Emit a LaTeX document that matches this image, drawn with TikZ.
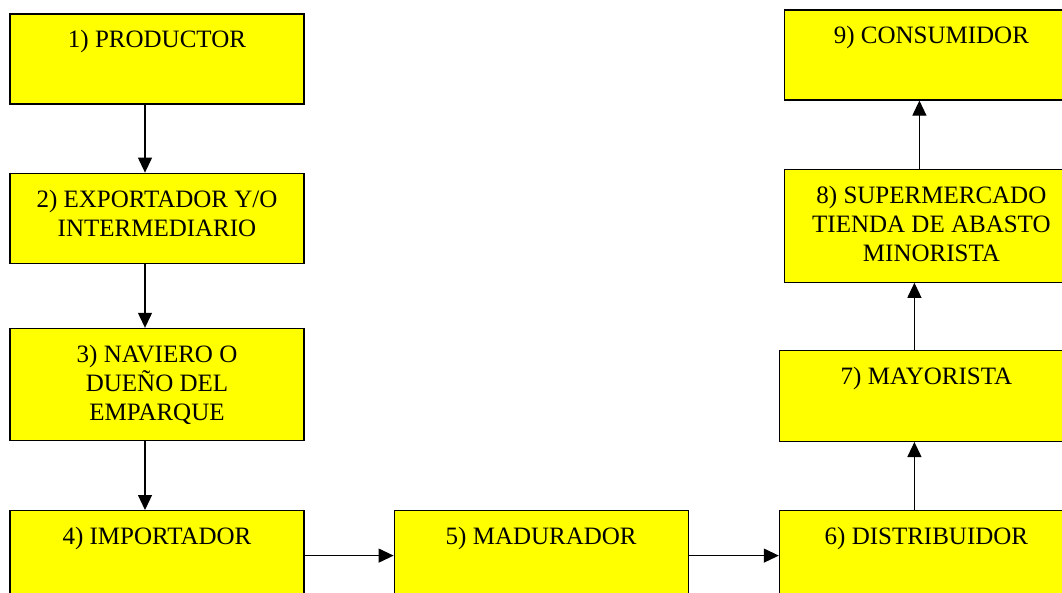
\documentclass[tikz,border=0pt]{standalone}
\usepackage{fontspec}
\setmainfont{Liberation Serif}
\usetikzlibrary{arrows.meta,positioning}
\definecolor{boxyellow}{RGB}{255,255,0}

\begin{document}
\begin{tikzpicture}[
  x=1pt, y=1pt,
  box/.style={draw, line width=1.2pt, fill=boxyellow, minimum width=294pt, minimum height=90pt, inner sep=0pt},
  txt/.style={anchor=north, align=center, inner sep=0pt, yshift=-17pt, font=\fontsize{25}{29}\selectfont},
  arr/.style={-{Triangle[length=15pt, width=14pt]}, line width=1.2pt}
]
\useasboundingbox (0,0) rectangle (1062,-592);
\fill[white] (0,0) rectangle (1062,-592);
% left column, top to bottom
\node[box, label={[txt]north:1) PRODUCTOR}] (n1) at (157,-59) {};
\node[box, below=68pt of n1, label={[txt]north:2) EXPORTADOR Y/O\\INTERMEDIARIO}] (n2) {};
\node[box, below=64pt of n2, minimum height=112pt, label={[txt]north:3) NAVIERO O\\DUEÑO DEL\\EMPARQUE}] (n3) {};
\node[box, below=69pt of n3, label={[txt]north:4) IMPORTADOR}] (n4) {};
% bottom row
\node[box, right=89pt of n4, label={[txt]north:5) MADURADOR}] (n5) {};
\node[box, right=90pt of n5, label={[txt]north:6) DISTRIBUIDOR}] (n6) {};
% right column, bottom to top
\node[box, above=68pt of n6, minimum height=91pt, label={[txt]north:7) MAYORISTA}] (n7) {};
\node[box, above=67pt of n7, xshift=5pt, minimum height=113pt, label={[txt]north:8) SUPERMERCADO\\TIENDA DE ABASTO\\MINORISTA}] (n8) {};
\node[box, above=68pt of n8, label={[txt]north:9) CONSUMIDOR}] (n9) {};
\draw[arr] ([xshift=-12pt]n1.south) -- ([xshift=-12pt]n2.north);
\draw[arr] ([xshift=-12pt]n2.south) -- ([xshift=-12pt]n3.north);
\draw[arr] ([xshift=-12pt]n3.south) -- ([xshift=-12pt]n4.north);
\draw[arr] (n4) -- (n5);
\draw[arr] (n5) -- (n6);
\draw[arr] ([xshift=-12pt]n6.north) -- ([xshift=-12pt]n7.south);
\draw[arr] ([xshift=-12pt]n7.north) -- ([xshift=-17pt]n8.south);
\draw[arr] ([xshift=-12pt]n8.north) -- ([xshift=-12pt]n9.south);
\end{tikzpicture}
\end{document}
